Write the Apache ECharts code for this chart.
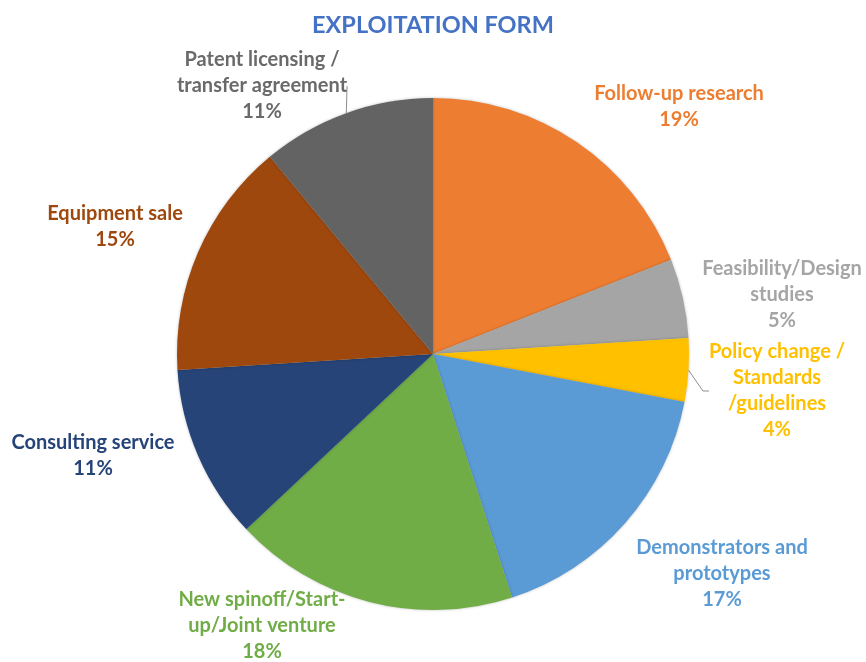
<!DOCTYPE html>
<html>
<head>
<meta charset="utf-8">
<script src="https://cdn.jsdelivr.net/npm/echarts@6/dist/echarts.min.js"></script>
<style>
  html, body { margin: 0; padding: 0; background: #ffffff; }
  #chart { width: 866px; height: 662px; }
</style>
</head>
<body>
<div id="chart"></div>
<script>
// Exploitation forms and their share (%), clockwise from 12 o'clock
const categories = [
  'Follow-up research',
  'Feasibility/Design\nstudies',
  'Policy change /\nStandards\n/guidelines',
  'Demonstrators and\nprototypes',
  'New spinoff/Start-\nup/Joint venture',
  'Consulting service',
  'Equipment sale',
  'Patent licensing /\ntransfer agreement'
];
const shares = [19, 5, 4, 17, 18, 11, 15, 11];

// Slice fills and label text colours
const sliceColors = ['#ED7D31', '#A5A5A5', '#FFC000', '#5B9BD5', '#70AD47', '#264478', '#9E480E', '#636363'];
const labelColors = ['#ED7D31', '#A5A5A5', '#FFC000', '#5B9BD5', '#70AD47', '#264478', '#9E480E', '#6a6a6a'];

// Label block centres (px) and which labels get a leader line
const labelSpots = [
  [679, 107], [782, 295], [777, 391], [722, 574],
  [262, 626], [93, 456], [115, 227], [262, 86]
];
const leaderShown = [false, false, true, false, false, false, false, true];

const chart = echarts.init(document.getElementById('chart'), null, { renderer: 'canvas' });

const seriesData = categories.map((name, i) => ({
  name: name,
  value: shares[i],
  itemStyle: { color: sliceColors[i] },
  label: { color: labelColors[i] },
  labelLine: { show: leaderShown[i] }
}));

chart.setOption({
  backgroundColor: '#ffffff',
  animation: false,
  title: {
    text: 'EXPLOITATION FORM',
    left: 'center',
    top: 8,
    textStyle: {
      fontFamily: 'Lato',
      fontWeight: 'bold',
      fontSize: 23.5,
      color: '#4472C4'
    }
  },
  series: [{
    type: 'pie',
    center: [433, 354],
    radius: [0, 256],
    startAngle: 90,
    clockwise: true,
    avoidLabelOverlap: false,
    data: seriesData,
    itemStyle: {
      borderWidth: 0,
      shadowBlur: 3,
      shadowColor: 'rgba(0,0,0,0.25)'
    },
    label: {
      show: true,
      position: 'outside',
      formatter: p => p.name + '\n' + p.value + '%',
      fontFamily: 'Lato',
      fontWeight: 'bold',
      fontSize: 20,
      lineHeight: 26,
      align: 'center'
    },
    labelLine: {
      length: 10,
      length2: 6,
      lineStyle: { color: '#8f8f8f', width: 1 }
    },
    labelLayout: params => {
      const spot = labelSpots[params.dataIndex];
      return {
        x: spot[0],
        y: spot[1],
        align: 'center',
        verticalAlign: 'middle'
      };
    },
    emphasis: { disabled: true }
  }]
});
</script>
</body>
</html>
